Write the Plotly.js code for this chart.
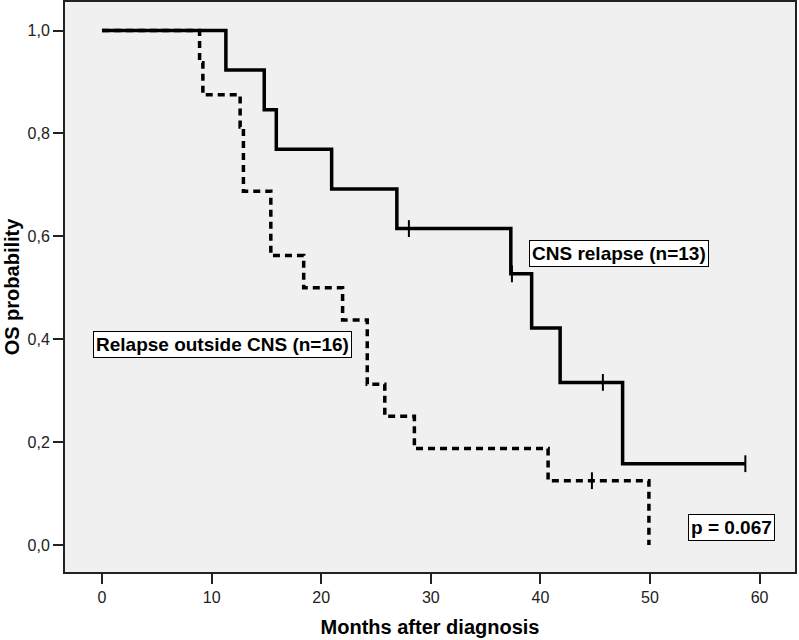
<!DOCTYPE html>
<html>
<head>
<meta charset="utf-8">
<script src="https://cdn.plot.ly/plotly-3.0.1.min.js"></script>
<style>html,body{margin:0;padding:0;background:#fff;}#chart{width:799px;height:640px;}</style>
</head>
<body>
<div id="chart"></div>
<script>
// CNS relapse (n=13) - step points (time in months, survival)
const cnsTime = [0, 11.3, 14.8, 15.9, 20.95, 26.9, 37.3, 39.2, 41.8, 47.5, 58.7];
const cnsSurv = [1.0, 0.923, 0.846, 0.769, 0.692, 0.615, 0.527, 0.422, 0.316, 0.158, 0.158];
const cnsCensorTime = [28.0, 37.4, 45.7, 58.7];
const cnsCensorSurv = [0.615, 0.527, 0.316, 0.158];

// Relapse outside CNS (n=16)
const outTime = [0, 8.9, 9.2, 12.6, 12.9, 15.4, 18.4, 21.95, 24.2, 25.8, 28.5, 40.7, 49.9];
const outSurv = [1.0, 0.9375, 0.875, 0.8125, 0.6875, 0.5625, 0.5, 0.4375, 0.3125, 0.25, 0.1875, 0.125, 0.0];
const outCensorTime = [44.7];
const outCensorSurv = [0.125];

const xTicks = [0, 10, 20, 30, 40, 50, 60];
const yTicks = [0, 0.2, 0.4, 0.6, 0.8, 1.0];
const yTickText = ['0,0', '0,2', '0,4', '0,6', '0,8', '1,0'];

const labelCns = 'CNS relapse (n=13)';
const labelOut = 'Relapse outside CNS (n=16)';
const pText = 'p = 0.067';

const traces = [
  {x: outTime, y: outSurv, mode: 'lines', line: {shape: 'hv', color: '#000', width: 3.5, dash: '7px,5px'}, showlegend: false, hoverinfo: 'skip'},
  {x: outCensorTime, y: outCensorSurv, mode: 'markers', marker: {symbol: 'line-ns-open', size: 12, color: '#000', line: {color: '#000', width: 2}}, showlegend: false, hoverinfo: 'skip'},
  {x: cnsTime, y: cnsSurv, mode: 'lines', line: {shape: 'hv', color: '#000', width: 3.5}, showlegend: false, hoverinfo: 'skip'},
  {x: cnsCensorTime, y: cnsCensorSurv, mode: 'markers', marker: {symbol: 'line-ns-open', size: 12, color: '#000', line: {color: '#000', width: 2}}, showlegend: false, hoverinfo: 'skip'}
];

const boxFont = {family: 'Liberation Sans, Arial, sans-serif', size: 19, color: '#000', weight: 'bold'};
const layout = {
  width: 799, height: 640,
  margin: {l: 65, r: 4, t: 2, b: 68},
  paper_bgcolor: '#ffffff',
  plot_bgcolor: '#f0f0f0',
  font: {family: 'Liberation Sans, Arial, sans-serif', color: '#000'},
  xaxis: {
    range: [-3.38, 63.23], tickvals: xTicks, ticktext: xTicks.map(String),
    ticks: 'outside', ticklen: 10, tickwidth: 2, tickcolor: '#222',
    showline: true, linecolor: '#222', linewidth: 2, mirror: true,
    showgrid: false, zeroline: false,
    tickfont: {size: 16, color: '#222'},
    title: {text: 'Months after diagnosis', font: {size: 20, weight: 'bold', color: '#000'}, standoff: 15}
  },
  yaxis: {
    range: [-0.0525, 1.0554], tickvals: yTicks, ticktext: yTickText,
    ticks: 'outside', ticklen: 10, tickwidth: 2, tickcolor: '#222',
    showline: true, linecolor: '#222', linewidth: 2, mirror: true,
    showgrid: false, zeroline: false,
    tickfont: {size: 16, color: '#222'},
    title: {text: 'OS probability', font: {size: 20, weight: 'bold', color: '#000'}, standoff: 3}
  },
  annotations: [
    {x: 47.2, y: 0.5675, xref: 'x', yref: 'y', text: labelCns, showarrow: false, font: boxFont, bgcolor: '#fff', bordercolor: '#000', borderwidth: 1, borderpad: 2},
    {x: 10.95, y: 0.389, xref: 'x', yref: 'y', text: labelOut, showarrow: false, font: boxFont, bgcolor: '#fff', bordercolor: '#000', borderwidth: 1, borderpad: 2},
    {x: 57.4, y: 0.034, xref: 'x', yref: 'y', text: pText, showarrow: false, font: boxFont, bgcolor: '#fff', bordercolor: '#000', borderwidth: 1, borderpad: 2}
  ]
};

Plotly.newPlot('chart', traces, layout, {displayModeBar: false, staticPlot: true});
</script>
</body>
</html>
